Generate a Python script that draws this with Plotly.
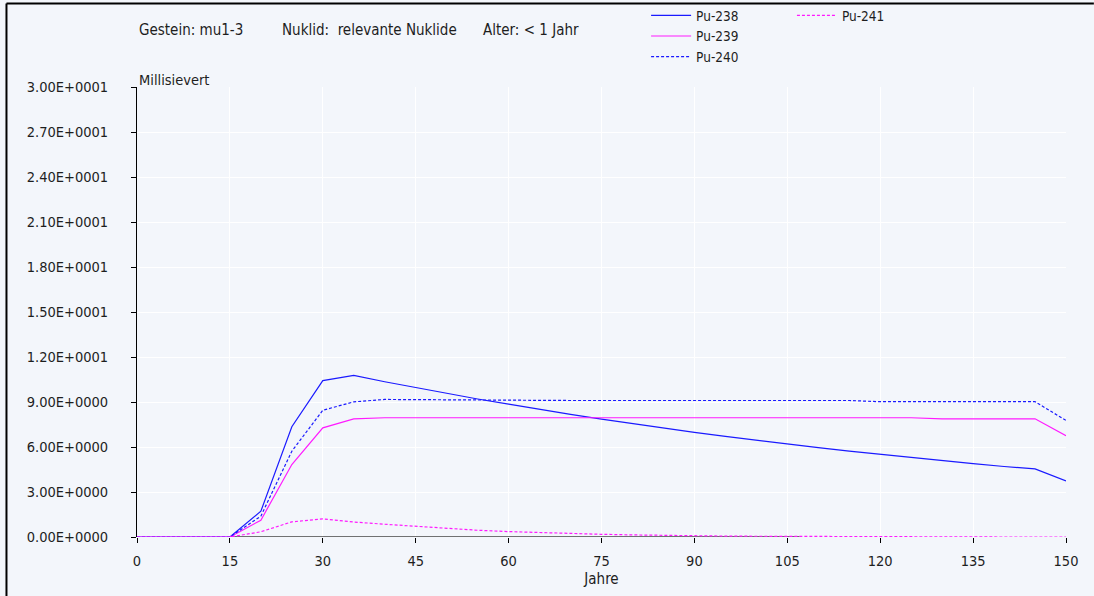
import plotly.graph_objects as go

years = [0, 5, 10, 15, 20, 25, 30, 35, 40, 45, 50, 55, 60, 65, 70, 75, 80, 85, 90, 95,
         100, 105, 110, 115, 120, 125, 130, 135, 140, 145, 150]

pu238 = [0, 0, 0, 0, 1.72, 7.35, 10.43, 10.77, 10.35, 9.95, 9.57, 9.20, 8.86, 8.50, 8.17,
         7.86, 7.55, 7.26, 6.98, 6.71, 6.45, 6.20, 5.96, 5.73, 5.51, 5.29, 5.09, 4.89, 4.70,
         4.54, 3.74]
pu239 = [0, 0, 0, 0, 1.12, 4.83, 7.28, 7.88, 7.95, 7.95, 7.95, 7.95, 7.95, 7.95, 7.95,
         7.95, 7.95, 7.95, 7.95, 7.95, 7.95, 7.95, 7.95, 7.95, 7.95, 7.95, 7.88, 7.88, 7.88,
         7.88, 6.75]
pu240 = [0, 0, 0, 0, 1.39, 5.72, 8.45, 9.01, 9.17, 9.15, 9.15, 9.13, 9.12, 9.10, 9.10,
         9.10, 9.10, 9.10, 9.10, 9.10, 9.10, 9.10, 9.10, 9.10, 9.02, 9.02, 9.02, 9.02, 9.02,
         9.02, 7.77]
pu241 = [0, 0, 0, 0, 0.35, 1.01, 1.21, 1.00, 0.85, 0.70, 0.57, 0.45, 0.36, 0.29, 0.23,
         0.18, 0.14, 0.10, 0.08, 0.06, 0.05, 0.04, 0.02, 0, 0, 0, 0, 0, 0, 0, 0]

other_x = [15, 107]
other_y = [0, 0]

y_ticks = [0, 3, 6, 9, 12, 15, 18, 21, 24, 27, 30]
y_ticktext = ["0.00E+0000", "3.00E+0000", "6.00E+0000", "9.00E+0000", "1.20E+0001",
              "1.50E+0001", "1.80E+0001", "2.10E+0001", "2.40E+0001", "2.70E+0001",
              "3.00E+0001"]
x_ticks = [0, 15, 30, 45, 60, 75, 90, 105, 120, 135, 150]

FONT = "DejaVu Sans Condensed, DejaVu Sans, sans-serif"
TXT = "#1e1e1e"
BG = "#F3F6FB"

fig = go.Figure()
fig.add_trace(go.Scatter(x=other_x, y=other_y, mode="lines", showlegend=False,
                         line=dict(color="#444444", width=1.6), hoverinfo="skip"))
fig.add_trace(go.Scatter(x=years, y=pu238, mode="lines", name="Pu-238",
                         line=dict(color="#1a1aff", width=1.2), legend="legend"))
fig.add_trace(go.Scatter(x=years, y=pu239, mode="lines", name="Pu-239",
                         line=dict(color="#ff1aff", width=1.2), legend="legend"))
fig.add_trace(go.Scatter(x=years, y=pu240, mode="lines", name="Pu-240",
                         line=dict(color="#1a1aff", width=1.2, dash="3px,2px"), legend="legend"))
fig.add_trace(go.Scatter(x=years, y=pu241, mode="lines", name="Pu-241",
                         line=dict(color="#ff1aff", width=1.2, dash="3px,2px"), legend="legend2"))

fig.update_layout(
    width=1094, height=596,
    margin=dict(l=137, r=28, t=87, b=59, autoexpand=False),
    paper_bgcolor=BG, plot_bgcolor=BG,
    font=dict(family=FONT, size=14.5, color=TXT),
    legend=dict(x=0.548, y=1.193, xanchor="left", yanchor="top", bgcolor="rgba(0,0,0,0)",
                font=dict(family=FONT, size=13.5, color=TXT), tracegroupgap=0, itemwidth=40),
    legend2=dict(x=0.705, y=1.193, xanchor="left", yanchor="top", bgcolor="rgba(0,0,0,0)",
                 font=dict(family=FONT, size=13.5, color=TXT), itemwidth=40),
    xaxis=dict(range=[0, 150], tickvals=x_ticks, ticks="outside", ticklen=5, tickcolor="#000",
               showline=False, showgrid=True, gridcolor="#ffffff", gridwidth=1, zeroline=False,
               title=dict(text="Jahre", standoff=5, font=dict(family=FONT, size=15, color=TXT)),
               ticklabelstandoff=6, fixedrange=True),
    yaxis=dict(range=[0, 30], tickvals=y_ticks, ticktext=y_ticktext, ticks="outside", ticklen=5,
               tickcolor="#000", showline=True, linecolor="#000", linewidth=1,
               showgrid=True, gridcolor="#ffffff", gridwidth=1, zeroline=False,
               ticklabelstandoff=20, fixedrange=True),
    annotations=[
        dict(text="Gestein: mu1-3", x=0, y=1.127, xref="paper", yref="paper",
             xanchor="left", yanchor="middle", showarrow=False, font=dict(size=15)),
        dict(text="Nuklid:\u00a0\u00a0relevante Nuklide", x=0.1539, y=1.127, xref="paper", yref="paper",
             xanchor="left", yanchor="middle", showarrow=False, font=dict(size=15)),
        dict(text="Alter: < 1 Jahr", x=0.3703, y=1.127, xref="paper", yref="paper",
             xanchor="left", yanchor="middle", showarrow=False, font=dict(size=15)),
        dict(text="Millisievert", x=0.0, y=1.0156, xref="paper", yref="paper",
             xanchor="left", yanchor="middle", showarrow=False),
    ],
    shapes=[
        dict(type="line", xref="paper", yref="paper", x0=-0.1405, x1=1.03, y0=1.1856, y1=1.1856,
             line=dict(color="#000", width=2)),
        dict(type="line", xref="paper", yref="paper", x0=-0.1405, x1=-0.1405, y0=-0.14, y1=1.1856,
             line=dict(color="#000", width=2)),
    ],
)

fig.write_html("out.html")
